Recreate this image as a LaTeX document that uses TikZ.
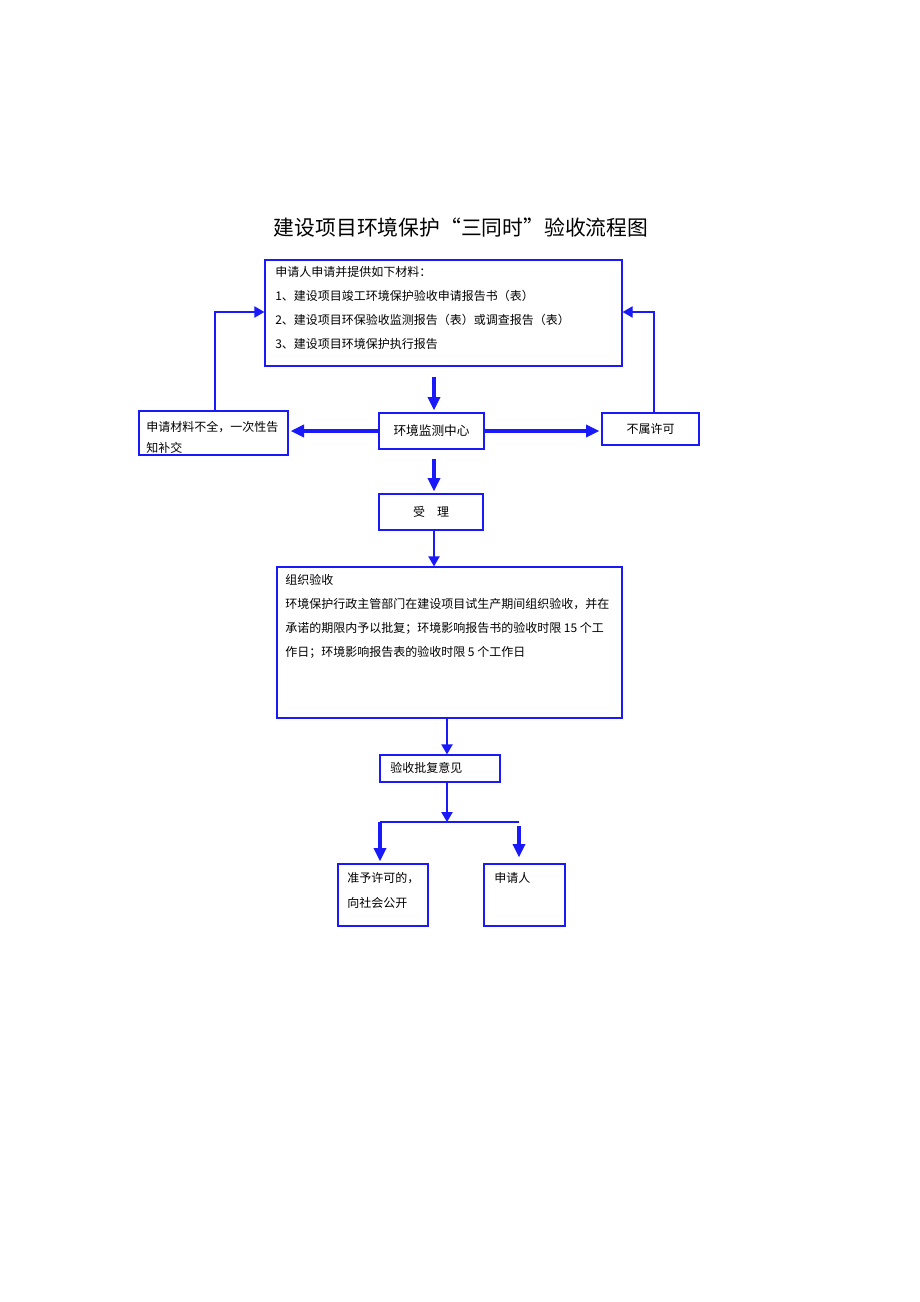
\documentclass[tikz,border=0pt]{standalone}
\usepackage{fontspec}
\setmainfont{Noto Sans CJK SC}
\usetikzlibrary{arrows.meta}
\definecolor{flowblue}{RGB}{25,25,250}

\begin{document}
\begin{tikzpicture}[x=0.75pt,y=-0.75pt,
    box/.style={draw=flowblue,line width=1pt,inner sep=0pt},
    txt/.style={anchor=north west,inner sep=0pt,align=left,font=\fontsize{9}{18}\selectfont},
    bigarrow/.style={draw=flowblue,line width=2.4pt,-{Triangle[width=9pt,length=10pt]}},
    smallarrow/.style={draw=flowblue,line width=1pt,-{Triangle[width=8.5pt,length=7.5pt]}},
    link/.style={draw=flowblue,line width=1pt}]
    \fill[white] (0,0) rectangle (920,1302);
    \useasboundingbox (0,0) rectangle (920,1302);

    \node[inner sep=0pt,font=\fontsize{15.6}{20}\selectfont] (title) at (461,228) {建设项目环境保护“三同时”验收流程图};

    % boxes
    \node[box,minimum width=357*0.75pt,minimum height=106*0.75pt] (apply) at (443.5,313) {};
    \node[txt] (applytext) at (275,266) {申请人申请并提供如下材料：\\
        1、建设项目竣工环境保护验收申请报告书（表）\\
        2、建设项目环保验收监测报告（表）或调查报告（表）\\
        3、建设项目环境保护执行报告};
    \node[box,minimum width=149*0.75pt,minimum height=44*0.75pt] (supplement) at (213.5,433) {};
    \node[txt,font=\fontsize{9}{15.75}\selectfont] (supplementtext) at (146,421) {申请材料不全，一次性告\\知补交};
    \node[box,minimum width=105*0.75pt,minimum height=36*0.75pt,font=\fontsize{9.5}{12}\selectfont] (monitor) at (431.5,431) {环境监测中心};
    \node[box,minimum width=97*0.75pt,minimum height=32*0.75pt,font=\fontsize{9}{12}\selectfont] (nolicense) at (650.5,429) {不属许可};
    \node[box,minimum width=104*0.75pt,minimum height=36*0.75pt,font=\fontsize{9}{12}\selectfont] (accept) at (431,512) {受\hspace{1em}理};
    \node[box,minimum width=345*0.75pt,minimum height=151*0.75pt] (organize) at (449.5,642.5) {};
    \node[txt] (organizetext) at (285,574) {组织验收\\
        环境保护行政主管部门在建设项目试生产期间组织验收，并在\\
        承诺的期限内予以批复；环境影响报告书的验收时限 15 个工\\
        作日；环境影响报告表的验收时限 5 个工作日};
    \node[box,minimum width=120*0.75pt,minimum height=27*0.75pt] (reply) at (440,768.5) {};
    \node[txt] (replytext) at (390,762) {验收批复意见};
    \node[box,minimum width=90*0.75pt,minimum height=62*0.75pt] (publish) at (383,895) {};
    \node[txt,font=\fontsize{9}{18.75}\selectfont] (publishtext) at (347,872) {准予许可的，\\向社会公开};
    \node[box,minimum width=81*0.75pt,minimum height=62*0.75pt] (applicant) at (524.5,895) {};
    \node[txt] (applicanttext) at (494,872) {申请人};

    % connectors
    \draw[bigarrow] ([shift={(-9.5,10)}]apply.south) -- ([shift={(2.5,-2)}]monitor.north);
    \draw[bigarrow] (monitor.west) -- ([shift={(2,0)}]monitor.west -| supplement.east);
    \draw[bigarrow] (monitor.east) -- ([shift={(-2,0)}]monitor.east -| nolicense.west);
    \draw[bigarrow] ([shift={(2.5,9)}]monitor.south) -- ([shift={(3,-2)}]accept.north);
    \draw[smallarrow] ([shift={(1.5,0)}]supplement.north) |- ([shift={(0,-1)}]apply.west);
    \draw[smallarrow] ([shift={(3.5,0)}]nolicense.north) |- ([shift={(0,-1)}]apply.east);
    \draw[smallarrow] ([shift={(3,0)}]accept.south) -- ([shift={(3,0)}]accept.south |- organize.north);
    \draw[smallarrow] ([shift={(-2.5,0)}]organize.south) -- ([shift={(-2.5,0)}]organize.south |- reply.north);
    \coordinate (split) at (447,822);
    \coordinate (splitleft) at (380,822);
    \coordinate (splitright) at (519,822);
    \draw[smallarrow] (split |- reply.south) -- (split);
    \draw[link] (splitleft) -- (splitright);
    \draw[bigarrow] (splitleft) -- ([shift={(0,-2)}]splitleft |- publish.north);
    \draw[bigarrow] ([shift={(0,4)}]splitright) -- ([shift={(0,-6)}]splitright |- applicant.north);
\end{tikzpicture}
\end{document}
